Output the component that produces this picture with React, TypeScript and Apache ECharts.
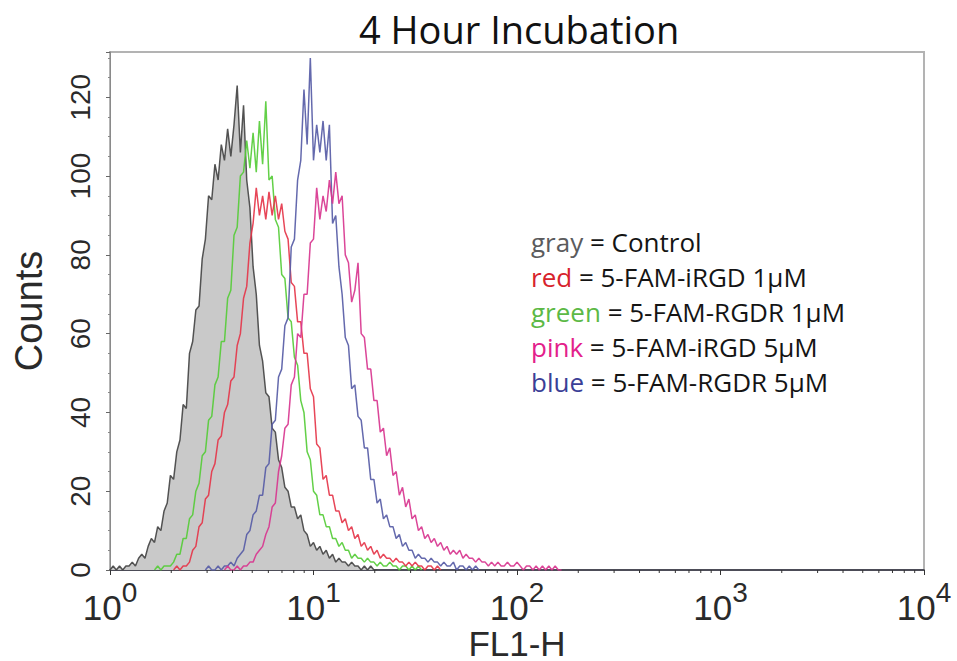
import React, { useEffect, useRef } from "react";
import * as echarts from "echarts";

// Histogram bins: 64 bins per decade of FL1-H, each array starts at a bin index
const BINS_PER_DECADE = 64;

const controlStart = 0;
const controlCounts = [
  0, 1, 0, 1, 0, 1, 1, 2, 1, 3,
  4, 3, 6, 8, 7, 11, 10, 15, 17, 24,
  23, 30, 33, 42, 41, 55, 58, 66, 67, 79,
  84, 95, 94, 103, 99, 108, 104, 112, 105, 113,
  123, 106, 118, 99, 92, 77, 70, 57, 53, 45,
  44, 36, 35, 28, 26, 21, 20, 16, 16, 13,
  14, 10, 9, 6, 7, 5, 6, 4, 5, 3,
  4, 2, 3, 2, 2, 1, 2, 1, 1, 0,
  1, 0, 1, 0, 0,
];

const rgdr1Start = 14;
const rgdr1Counts = [
  0, 1, 0, 1, 1, 1,
  2, 4, 4, 8, 8, 13, 14, 20, 22, 29,
  30, 38, 39, 47, 49, 58, 58, 69, 71, 85,
  87, 100, 101, 109, 102, 111, 101, 114, 103, 119,
  99, 100, 89, 87, 75, 74, 64, 63, 54, 52,
  43, 40, 30, 28, 20, 19, 14, 14, 11, 11,
  8, 8, 6, 7, 5, 5, 3, 4, 3, 3,
  2, 3, 2, 2, 1, 2, 1, 1, 2, 1,
  1, 0, 1, 1, 0, 1, 0, 1, 0,
];

const irgd1Start = 20;
const irgd1Counts = [
  0, 1, 0, 1, 1, 2, 5, 6, 11, 12,
  18, 19, 25, 27, 33, 34, 40, 42, 48, 49,
  57, 60, 69, 72, 83, 88, 97, 90, 95, 89,
  96, 90, 95, 89, 93, 86, 84, 73, 72, 63,
  63, 55, 55, 46, 44, 32, 31, 23, 24, 19,
  19, 15, 15, 12, 13, 10, 11, 8, 9, 6,
  7, 5, 6, 4, 5, 3, 4, 3, 3, 2,
  3, 2, 2, 1, 2, 1, 2, 1, 1, 0,
  1, 1, 0, 1, 0,
];

const rgdr5Start = 30;
const rgdr5Counts = [
  0, 1, 0, 0, 1, 0, 1, 1, 2, 1,
  3, 4, 5, 9, 10, 14, 15, 19, 19, 26,
  27, 37, 38, 49, 51, 62, 64, 82, 84, 99,
  104, 122, 108, 130, 104, 113, 106, 114, 104, 113,
  88, 90, 77, 70, 59, 57, 46, 47, 39, 38,
  31, 31, 23, 23, 17, 18, 13, 14, 11, 11,
  8, 9, 6, 7, 5, 5, 3, 4, 3, 3,
  2, 3, 2, 2, 1, 2, 1, 1, 2, 0,
  1, 1, 0, 1, 0, 1, 0,
];

const irgd5Start = 36;
const irgd5Counts = [
  0, 1, 0, 0,
  1, 0, 1, 1, 2, 2, 4, 5, 6, 9,
  11, 16, 17, 25, 29, 36, 37, 47, 49, 60,
  59, 70, 70, 83, 84, 97, 89, 95, 91, 99,
  93, 101, 93, 95, 80, 78, 68, 71, 78, 60,
  59, 51, 51, 43, 43, 35, 36, 29, 31, 24,
  25, 19, 21, 16, 18, 13, 14, 10, 11, 8,
  9, 7, 8, 6, 7, 5, 6, 4, 5, 4,
  5, 3, 4, 3, 3, 2, 3, 2, 2, 1,
  2, 1, 2, 1, 1, 2, 1, 1, 2, 1,
  0, 1, 1, 0, 1, 0, 1, 0, 1, 0, 1, 0, 0,
];

const minorTickValues = [
  2, 3, 4, 5, 6, 7, 8, 9,
  20, 30, 40, 50, 60, 70, 80, 90,
  200, 300, 400, 500, 600, 700, 800, 900,
  2000, 3000, 4000, 5000, 6000, 7000, 8000, 9000,
];

const legendWords = ["gray", "red", "green", "pink", "blue"];
const legendLabels = [
  "Control",
  "5-FAM-iRGD 1µM",
  "5-FAM-RGDR 1µM",
  "5-FAM-iRGD 5µM",
  "5-FAM-RGDR 5µM",
];
const legendWordColors = ["#5b5b5d", "#d7232c", "#5cb946", "#e3208b", "#3b3f97"];

const toPoints = (start: number, counts: number[]) =>
  counts.map((c, i) => [Math.pow(10, (start + i) / BINS_PER_DECADE), c]);

const AXIS_FONT = "'Liberation Sans', Arial, Helvetica, sans-serif";
const TEXT_FONT = "'Open Sans', 'Noto Sans', sans-serif";

export default function App() {
  const ref = useRef<HTMLDivElement>(null);

  useEffect(() => {
    if (!ref.current) return;
    const chart = echarts.init(ref.current, undefined, { renderer: "svg" });

    const lineSeries = (
      name: string,
      start: number,
      counts: number[],
      color: string,
      z: number,
      fill?: string
    ): any => ({
      name,
      type: "line",
      data: toPoints(start, counts),
      showSymbol: false,
      symbol: "none",
      smooth: false,
      z,
      lineStyle: { color, width: 1.5, opacity: 0.92 },
      areaStyle: fill ? { color: fill, opacity: 1 } : undefined,
      silent: true,
    });

    const rich: any = {
      t: { fontSize: 26, fontFamily: TEXT_FONT, fill: "#141414", color: "#141414", lineHeight: 35 },
    };
    legendWords.forEach((w, i) => {
      rich[w] = {
        fontSize: 26,
        fontFamily: TEXT_FONT,
        fill: legendWordColors[i],
        color: legendWordColors[i],
        lineHeight: 35,
      };
    });
    const legendText = legendWords
      .map((w, i) => `{${w}|${w}}{t| = ${legendLabels[i]}}`)
      .join("\n");

    chart.setOption({
      animation: false,
      backgroundColor: "#ffffff",
      title: {
        text: "4 Hour Incubation",
        left: 354,
        top: 5,
        textStyle: {
          fontFamily: TEXT_FONT,
          fontSize: 38,
          fontWeight: "normal",
          color: "#111",
        },
      },
      grid: {
        left: 110,
        right: 33,
        top: 52,
        bottom: 91,
        outerBoundsMode: "none",
        containLabel: false,
        show: true,
        borderColor: "#b3b3b3",
        borderWidth: 2,
        backgroundColor: "transparent",
      },
      xAxis: {
        type: "log",
        logBase: 10,
        min: 1,
        max: 10000,
        name: "FL1-H",
        nameLocation: "middle",
        nameGap: 58,
        nameMoveOverlap: false,
        nameTextStyle: { fontFamily: AXIS_FONT, fontSize: 35, lineHeight: 30, color: "#2a2a2a" },
        axisLine: { show: true, lineStyle: { color: "#2b2b3a", width: 1.5 } },
        axisTick: { show: true, length: 5, lineStyle: { color: "#333" } },
        splitLine: { show: false },
        axisLabel: {
          margin: 8,
          formatter: (v: number) => `{a|10}{b|${Math.round(Math.log10(v))}}`,
          rich: {
            a: { fontFamily: AXIS_FONT, fontSize: 35, color: "#2a2a2a", lineHeight: 47, verticalAlign: "bottom" },
            b: { fontFamily: AXIS_FONT, fontSize: 28, color: "#2a2a2a", lineHeight: 28, verticalAlign: "top" },
          },
        },
      },
      yAxis: {
        type: "value",
        min: 0,
        max: 131.5,
        interval: 20,
        name: "Counts",
        nameLocation: "middle",
        nameGap: 62,
        nameRotate: 90,
        nameMoveOverlap: false,
        nameTextStyle: { fontFamily: AXIS_FONT, fontSize: 38, color: "#2a2a2a" },
        axisLine: { show: true, lineStyle: { color: "#8a8a8a", width: 1 } },
        axisTick: { show: true, length: 4, lineStyle: { color: "#666" } },
        minorTick: { show: true, splitNumber: 4, length: 2, lineStyle: { color: "#888" } },
        splitLine: { show: false },
        axisLabel: {
          rotate: 90,
          margin: 16,
          fontFamily: AXIS_FONT,
          fontSize: 28,
          color: "#2a2a2a",
          formatter: (v: number) => (v % 20 === 0 ? String(v) : ""),
        },
      },
      graphic: [
        {
          type: "text",
          left: 531,
          top: 224,
          z: 100,
          style: {
            text: legendText,
            rich,
            fontSize: 26,
            fontFamily: TEXT_FONT,
            lineHeight: 35,
            fill: "#141414",
          },
        },
      ],
      series: [
        lineSeries("Control", controlStart, controlCounts, "#454545", 2, "#c9c9c9"),
        lineSeries("5-FAM-RGDR 1µM", rgdr1Start, rgdr1Counts, "#56cc38", 3),
        lineSeries("5-FAM-iRGD 1µM", irgd1Start, irgd1Counts, "#e5364a", 4),
        lineSeries("5-FAM-RGDR 5µM", rgdr5Start, rgdr5Counts, "#575ca6", 5),
        lineSeries("5-FAM-iRGD 5µM", irgd5Start, irgd5Counts, "#d8368f", 6),
        {
          type: "custom",
          name: "minor ticks",
          silent: true,
          z: 10,
          data: minorTickValues.map((v) => [v, 0]),
          encode: { x: 0, y: 1 },
          renderItem: (_params: any, api: any) => {
            const p = api.coord([api.value(0), 0]);
            return {
              type: "line",
              shape: { x1: p[0], y1: p[1], x2: p[0], y2: p[1] + 3 },
              style: { stroke: "#333", lineWidth: 1 },
            };
          },
        },
      ],
    });

    return () => chart.dispose();
  }, []);

  return <div ref={ref} style={{ width: 957, height: 661, position: "absolute", left: 0, top: 0 }} />;
}
